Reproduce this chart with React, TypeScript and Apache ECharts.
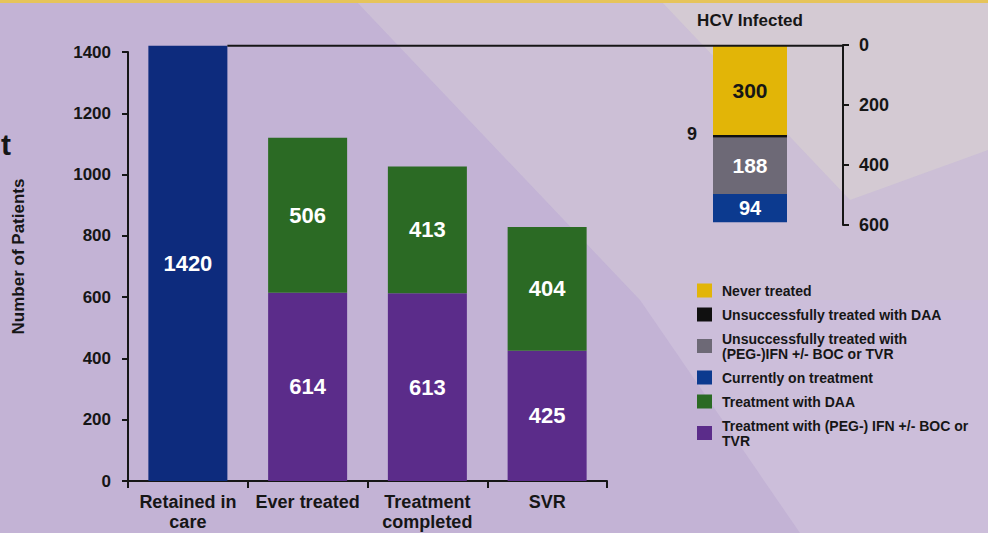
import React, { useEffect, useRef } from 'react';
import * as echarts from 'echarts';

// ---- Data ----
const categories = ['Retained in\ncare', 'Ever treated', 'Treatment\ncompleted', 'SVR'];
const retainedInCare = [1420, '-', '-', '-'];
const treatmentPegIfn = ['-', 614, 613, 425];
const treatmentDaa = ['-', 506, 413, 404];

const insetCategory = ['HCV Infected'];
const neverTreated = [300];
const unsuccessfulDaa = [9];
const unsuccessfulPeg = [188];
const currentlyOnTreatment = [94];

const legendNames = [
  'Never treated',
  'Unsuccessfully treated with DAA',
  'Unsuccessfully treated with\n(PEG-)IFN +/- BOC or TVR',
  'Currently on treatment',
  'Treatment with DAA',
  'Treatment with (PEG-) IFN +/- BOC or\nTVR',
];

const FONT = '"Liberation Sans", Arial, sans-serif';
const DARK = '#161616';

const MAIN_GRID = { left: 128, top: 52, width: 479, height: 429 };
const INSET_GRID = { left: 657, top: 45, width: 186, height: 180 };

export default function App() {
  const ref = useRef<HTMLDivElement>(null);
  useEffect(() => {
    if (!ref.current) return;
    const chart = echarts.init(ref.current, undefined, { renderer: 'svg' });
    const whiteLabel = {
      show: true,
      position: 'inside',
      color: '#ffffff',
      fontFamily: FONT,
      fontWeight: 'bold',
      fontSize: 22,
    };
    const option: any = {
      animation: false,
      backgroundColor: '#c3b3d5',
      textStyle: { fontFamily: FONT },
      legend: {
        orient: 'vertical',
        left: 697,
        top: 283,
        padding: 0,
        itemWidth: 15,
        itemHeight: 14,
        itemGap: 9,
        icon: 'rect',
        selectedMode: false,
        data: legendNames,
        textStyle: {
          fontFamily: FONT,
          fontWeight: 'bold',
          fontSize: 14,
          lineHeight: 15,
          color: DARK,
          padding: [0, 0, 0, 5],
        },
      },
      grid: [
        { ...MAIN_GRID, containLabel: false },
        { ...INSET_GRID, containLabel: false },
      ],
      xAxis: [
        {
          type: 'category',
          gridIndex: 0,
          data: categories,
          axisLine: { lineStyle: { color: DARK, width: 2 } },
          axisTick: { show: true, length: 7, lineStyle: { color: DARK, width: 2 } },
          axisLabel: {
            interval: 0,
            color: DARK,
            fontFamily: FONT,
            fontWeight: 'bold',
            fontSize: 18,
            lineHeight: 20,
            margin: 11,
          },
        },
        {
          type: 'category',
          gridIndex: 1,
          data: insetCategory,
          show: false,
        },
      ],
      yAxis: [
        {
          type: 'value',
          gridIndex: 0,
          min: 0,
          max: 1400,
          interval: 200,
          name: 'Number of Patients',
          nameLocation: 'middle',
          nameGap: 101,
          nameRotate: 90,
          nameTextStyle: { color: DARK, fontFamily: FONT, fontWeight: 'bold', fontSize: 17, padding: [0, 0, 0, 20] },
          axisLine: { show: true, lineStyle: { color: DARK, width: 2 } },
          axisTick: { show: true, length: 6, lineStyle: { color: DARK, width: 2 } },
          splitLine: { show: false },
          axisLabel: {
            color: DARK,
            fontFamily: FONT,
            fontWeight: 'bold',
            fontSize: 17,
            margin: 17,
            formatter: (v: number) => String(v),
          },
        },
        {
          type: 'value',
          gridIndex: 1,
          inverse: true,
          min: 0,
          max: 600,
          interval: 200,
          position: 'right',
          axisLine: { show: true, lineStyle: { color: DARK, width: 2 } },
          axisTick: { show: true, length: 6, lineStyle: { color: DARK, width: 2 } },
          splitLine: { show: false },
          axisLabel: {
            color: DARK,
            fontFamily: FONT,
            fontWeight: 'bold',
            fontSize: 18,
            margin: 16,
            formatter: (v: number) => String(v),
          },
        },
      ],
      series: [
        {
          name: 'Retained in care',
          type: 'bar',
          stack: 'main',
          xAxisIndex: 0,
          yAxisIndex: 0,
          barWidth: 79,
          clip: false,
          data: retainedInCare,
          itemStyle: { color: '#0d2b7d' },
          label: whiteLabel,
        },
        {
          name: legendNames[5],
          type: 'bar',
          stack: 'main',
          xAxisIndex: 0,
          yAxisIndex: 0,
          barWidth: 79,
          data: treatmentPegIfn,
          itemStyle: { color: '#5b2c8a' },
          label: whiteLabel,
        },
        {
          name: legendNames[4],
          type: 'bar',
          stack: 'main',
          xAxisIndex: 0,
          yAxisIndex: 0,
          barWidth: 79,
          data: treatmentDaa,
          itemStyle: { color: '#2b6a24' },
          label: whiteLabel,
        },
        {
          name: legendNames[0],
          type: 'bar',
          stack: 'inset',
          xAxisIndex: 1,
          yAxisIndex: 1,
          barWidth: 74,
          data: neverTreated,
          itemStyle: { color: '#e2b507' },
          label: { ...whiteLabel, color: DARK, fontSize: 21 },
        },
        {
          name: legendNames[1],
          type: 'bar',
          stack: 'inset',
          xAxisIndex: 1,
          yAxisIndex: 1,
          barWidth: 74,
          data: unsuccessfulDaa,
          itemStyle: { color: '#101010' },
          label: {
            show: true,
            position: 'left',
            distance: 16,
            color: DARK,
            fontFamily: FONT,
            fontWeight: 'bold',
            fontSize: 18,
            offset: [0, -2],
          },
        },
        {
          name: legendNames[2],
          type: 'bar',
          stack: 'inset',
          xAxisIndex: 1,
          yAxisIndex: 1,
          barWidth: 74,
          data: unsuccessfulPeg,
          itemStyle: { color: '#6d6976' },
          label: { ...whiteLabel, fontSize: 21 },
        },
        {
          name: legendNames[3],
          type: 'bar',
          stack: 'inset',
          xAxisIndex: 1,
          yAxisIndex: 1,
          barWidth: 74,
          data: currentlyOnTreatment,
          itemStyle: { color: '#0c3a8f' },
          label: { ...whiteLabel, fontSize: 20 },
        },
      ],
      graphic: [
        {
          type: 'polygon',
          z: -10,
          silent: true,
          shape: { points: [[355, 0], [988, 0], [988, 300], [640, 300]] },
          style: { fill: 'rgba(222, 214, 218, 0.35)' },
        },
        {
          type: 'polygon',
          z: -10,
          silent: true,
          shape: { points: [[660, 0], [988, 0], [988, 150], [850, 200]] },
          style: { fill: 'rgba(226, 224, 205, 0.35)' },
        },
        {
          type: 'polygon',
          z: -10,
          silent: true,
          shape: { points: [[640, 300], [988, 300], [988, 533], [800, 533]] },
          style: { fill: 'rgba(225, 215, 232, 0.3)' },
        },
        {
          type: 'rect',
          z: -9,
          silent: true,
          shape: { x: 0, y: 0, width: 988, height: 3 },
          style: { fill: '#e6c45a' },
        },
        {
          type: 'text',
          x: 750,
          y: 20,
          style: {
            text: 'HCV Infected',
            fill: DARK,
            font: `bold 17px ${FONT}`,
            align: 'center',
            verticalAlign: 'middle',
          },
        },
        {
          type: 'text',
          x: 1,
          y: 144,
          style: {
            text: 't',
            fill: DARK,
            font: `bold 30px ${FONT}`,
            align: 'left',
            verticalAlign: 'middle',
          },
        },
      ],
    };
    chart.setOption(option);

    // connector line from the top of the "Retained in care" bar to the inset axis
    const p = chart.convertToPixel({ gridIndex: 0 }, [0, retainedInCare[0] as number]);
    if (p) {
      const y = p[1];
      chart.setOption({
        graphic: [
          ...option.graphic,
          {
            type: 'line',
            z: 5,
            silent: true,
            shape: { x1: p[0] + 79 / 2, y1: y, x2: INSET_GRID.left + INSET_GRID.width + 1, y2: y },
            style: { stroke: DARK, lineWidth: 2 },
          },
        ],
      });
    }
    return () => chart.dispose();
  }, []);
  return <div ref={ref} style={{ width: 988, height: 533, position: 'absolute', left: 0, top: 0 }} />;
}
